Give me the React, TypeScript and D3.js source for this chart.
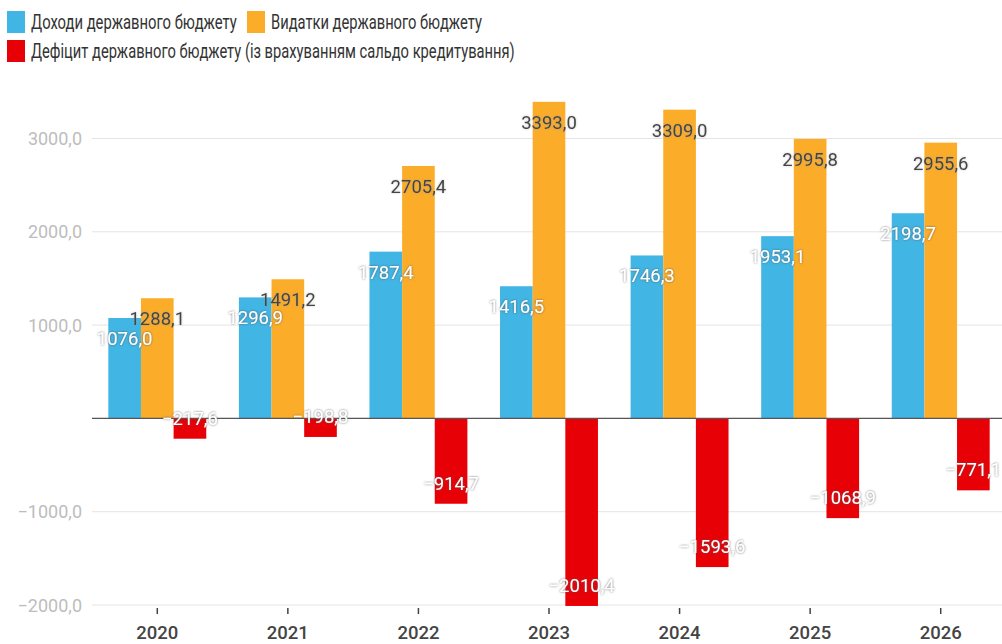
import React, { useEffect, useRef } from 'react';
import * as d3 from 'd3';

const years = ['2020', '2021', '2022', '2023', '2024', '2025', '2026'];
const revenues = [1076.0, 1296.9, 1787.4, 1416.5, 1746.3, 1953.1, 2198.7];
const expenditures = [1288.1, 1491.2, 2705.4, 3393.0, 3309.0, 2995.8, 2955.6];
const deficit = [-217.6, -198.8, -914.7, -2010.4, -1593.6, -1068.9, -771.1];
const yTicks = [-2000, -1000, 0, 1000, 2000, 3000];

const seriesNames = [
  'Доходи державного бюджету',
  'Видатки державного бюджету',
  'Дефіцит державного бюджету (із врахуванням сальдо кредитування)',
];
const colors = ['#41b5e4', '#fbac29', '#e80007'];
const labelFill = ['#ffffff', '#444444', '#ffffff'];

const W = 1002;
const H = 644;

const fmt = (v: number) => v.toFixed(1).replace('.', ',').replace('-', '−');

export default function App() {
  const ref = useRef<SVGSVGElement>(null);

  useEffect(() => {
    const svg = d3.select(ref.current);
    svg.selectAll('*').remove();
    const font = 'Roboto, "Noto Sans", sans-serif';

    const defs = svg.append('defs');
    const f = defs.append('filter').attr('id', 'halo').attr('x', '-20%').attr('y', '-40%').attr('width', '140%').attr('height', '180%');
    f.append('feDropShadow').attr('dx', 0).attr('dy', 0).attr('stdDeviation', 1.3).attr('flood-color', '#555').attr('flood-opacity', 0.9);
    const f2 = defs.append('filter').attr('id', 'halo2').attr('x', '-20%').attr('y', '-40%').attr('width', '140%').attr('height', '180%');
    f2.append('feDropShadow').attr('dx', 0).attr('dy', 0).attr('stdDeviation', 1.2).attr('flood-color', '#999').attr('flood-opacity', 0.6);

    const left = 92;
    const y = d3.scaleLinear().domain([-2000, 3000]).range([605, 138.5]);
    const x0 = d3.scaleBand<string>().domain(years).range([left, 1006]).padding(0);
    const bw = x0.bandwidth();
    const x1 = d3.scaleBand<number>().domain([0, 1, 2]).range([bw * 0.125, bw * 0.875]).padding(0);

    // legend: the source font is narrower, so squeeze each text to its measured width
    const legendItems = [
      { i: 0, x: 7, y: 22, w: 206 },
      { i: 1, x: 247, y: 22, w: 211 },
      { i: 2, x: 7, y: 51, w: 484 },
    ];
    const lg = svg.append('g');
    legendItems.forEach(d => {
      lg.append('rect').attr('x', d.x).attr('y', d.y - 11).attr('width', 18).attr('height', 22).attr('fill', colors[d.i]);
      const t = lg.append('text').attr('x', 0).attr('y', 0).attr('dominant-baseline', 'central')
        .attr('font-family', font).attr('font-size', 19.5).attr('fill', '#333').text(seriesNames[d.i]);
      const natural = (t.node() as SVGTextElement).getComputedTextLength() || d.w;
      t.attr('transform', `translate(${d.x + 24},${d.y}) scale(${d.w / natural},1)`);
    });

    // grid
    const g = svg.append('g');
    g.selectAll('line.grid').data(yTicks.filter(t => t !== 0)).enter().append('line')
      .attr('x1', left).attr('x2', W).attr('y1', d => y(d)).attr('y2', d => y(d))
      .attr('stroke', '#e4e4e4').attr('stroke-width', 1);
    g.selectAll('text.yt').data(yTicks.filter(t => t !== 0)).enter().append('text')
      .attr('x', 82).attr('y', d => y(d)).attr('text-anchor', 'end').attr('dominant-baseline', 'central')
      .attr('font-family', font).attr('font-size', 18).attr('fill', '#bdbdbd').text(d => fmt(d));

    // bars
    const series = [revenues, expenditures, deficit];
    series.forEach((vals, si) => {
      g.selectAll(`rect.s${si}`).data(vals).enter().append('rect')
        .attr('x', (_, i) => (x0(years[i]) as number) + (x1(si) as number))
        .attr('width', x1.bandwidth())
        .attr('y', d => y(Math.max(0, d)))
        .attr('height', d => Math.abs(y(d) - y(0)))
        .attr('fill', colors[si]);
    });

    // zero line
    g.append('line').attr('x1', left).attr('x2', W).attr('y1', y(0)).attr('y2', y(0)).attr('stroke', '#555').attr('stroke-width', 1.3);

    // x ticks
    years.forEach(yr => {
      const cx = (x0(yr) as number) + bw / 2;
      g.append('line').attr('x1', cx).attr('x2', cx).attr('y1', 608).attr('y2', 614).attr('stroke', '#444').attr('stroke-width', 1.5);
      g.append('text').attr('x', cx).attr('y', 633).attr('text-anchor', 'middle').attr('dominant-baseline', 'central')
        .attr('font-family', font).attr('font-size', 18.5).attr('font-weight', 500).attr('fill', '#444').text(yr);
    });

    // value labels
    series.forEach((vals, si) => {
      g.selectAll(`text.l${si}`).data(vals).enter().append('text')
        .attr('x', (_, i) => (x0(years[i]) as number) + (x1(si) as number) + x1.bandwidth() / 2)
        .attr('y', d => y(d) + (d >= 0 ? 21 : -20))
        .attr('text-anchor', 'middle').attr('dominant-baseline', 'central')
        .attr('font-family', font).attr('font-size', 18.5).attr('fill', labelFill[si])
        .attr('filter', si === 1 ? 'url(#halo2)' : 'url(#halo)')
        .text(d => fmt(d));
    });
  }, []);

  return (
    <svg ref={ref} width={W} height={H} style={{ position: 'absolute', left: 0, top: 0, background: '#fff' }} />
  );
}
